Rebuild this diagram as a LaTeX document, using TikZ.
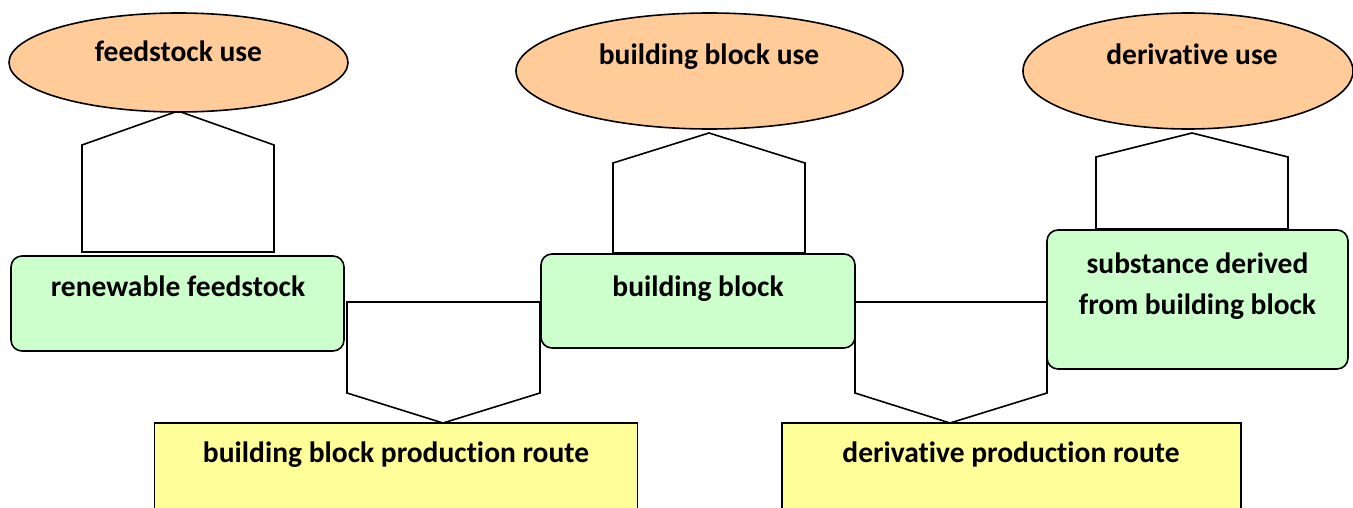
\documentclass[tikz,border=0pt]{standalone}
\usepackage{fontspec}
\setmainfont{Carlito}[RawFeature=-liga]
\usetikzlibrary{shapes.geometric}
\definecolor{peach}{HTML}{FFCC99}
\definecolor{mint}{HTML}{CCFFCC}
\definecolor{lemon}{HTML}{FFFF99}
\tikzset{
  outline/.style={draw=black, line width=1.6pt, line join=miter},
  useell/.style={outline, ellipse, fill=peach, inner sep=0pt},
  greenbox/.style={outline, fill=mint, rounded corners=11pt},
  yellowbox/.style={outline, fill=lemon},
  blockarrow/.style={outline, fill=white},
  lbl/.style={font=\fontsize{29.5}{35}\selectfont\bfseries, anchor=base, inner sep=0pt}
}
\begin{document}
\begin{tikzpicture}[x=1pt,y=-1pt]
\clip (0,0) rectangle (1353,508);
\fill[white] (0,0) rectangle (1353,508);
% up block arrows
\draw[blockarrow] (82,252) -- (82,145) -- (178,111) -- (274,145) -- (274,252) -- cycle;
\draw[blockarrow] (613,253) -- (613,163) -- (709,133) -- (805,163) -- (805,253) -- cycle;
\draw[blockarrow] (1096,229) -- (1096,157) -- (1192,133) -- (1288,157) -- (1288,229) -- cycle;
% down block arrows
\draw[blockarrow] (347,302) -- (540,302) -- (540,393) -- (443,423) -- (347,393) -- cycle;
\draw[blockarrow] (855,302) -- (1047,302) -- (1047,393) -- (950,423) -- (855,393) -- cycle;
% ellipses
\node[useell, minimum width=339pt, minimum height=99pt] (fu) at (178.5,62.5) {};
\node[useell, minimum width=387pt, minimum height=116pt] (bu) at (709.5,71) {};
\node[useell, minimum width=330pt, minimum height=116pt] (du) at (1188,71) {};
\node[lbl] at (178.5,62) {feedstock use};
\node[lbl] at (709,65) {building block use};
\node[lbl] at (1192,65) {derivative use};
% green boxes
\draw[greenbox] (11,256) rectangle (344,351);
\node (rf) at (177.5,303.5) {};
\node[lbl] at (178,296) {renewable feedstock};
\draw[greenbox] (541,254) rectangle (855,348);
\node (bb) at (698,301) {};
\node[lbl] at (698,296) {building block};
\draw[greenbox] (1047,230) rectangle (1348,369);
\node (sd) at (1197.5,299.5) {};
\node[lbl] at (1197.5,273) {substance derived};
\node[lbl] at (1197.5,314) {from building block};
% yellow boxes
\draw[yellowbox] (154.5,423) rectangle (637.5,530);
\node[lbl] at (396,462) {building block production route};
\draw[yellowbox] (782,423) rectangle (1241,530);
\node[lbl] at (1011,462) {derivative production route};
\end{tikzpicture}
\end{document}
